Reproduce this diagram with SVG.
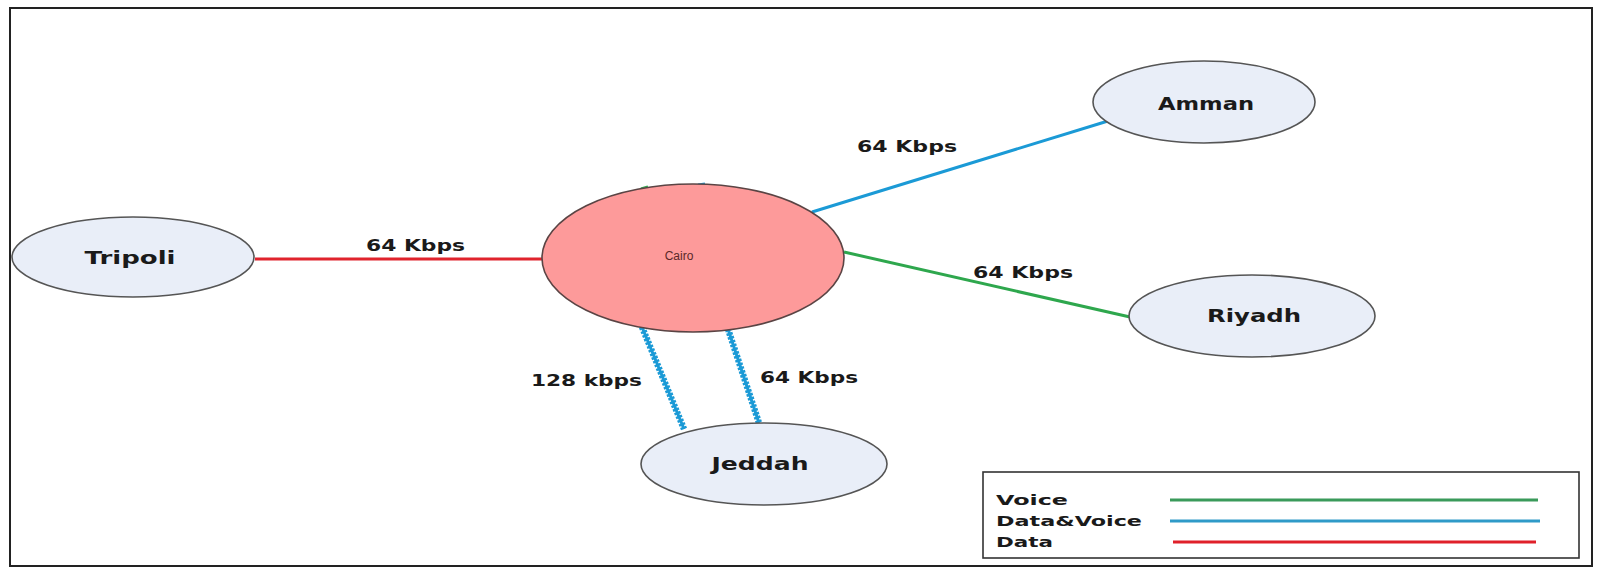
<svg xmlns="http://www.w3.org/2000/svg" width="1602" height="568" viewBox="0 0 1602 568">
<style>
.node ellipse{fill:#e9eef8;stroke:#555;stroke-width:1.6}
.lbl{font-family:"DejaVu Sans",Verdana,sans-serif;font-weight:bold;fill:#1a1a1a}
.nl{font-size:18px;text-anchor:middle}
.el{font-size:15px}
.lg{font-size:14px}
.red{stroke:#e0232c;stroke-width:3;fill:none}
.blue{stroke:#1b9ad6;stroke-width:3;fill:none}
.green{stroke:#2ea74d;stroke-width:3;fill:none}
.thick{stroke:#1b9ad6;stroke-width:6.5;fill:none;stroke-dasharray:2.5 1.5}
</style>
<rect width="1602" height="568" fill="#fff"/>
<rect x="10" y="8" width="1582" height="558" fill="none" stroke="#222" stroke-width="2"/>
<g id="connectors">
  <line class="red" x1="255" y1="259" x2="542" y2="259"/>
  <line class="blue" x1="812" y1="212" x2="1108" y2="121"/>
  <line class="green" x1="844" y1="252" x2="1130" y2="317"/>
  <line class="blue" x1="642" y1="327" x2="684" y2="429" stroke-width="4.5"/>
  <line class="thick" x1="642" y1="327" x2="684" y2="429"/>
  <line class="blue" x1="728" y1="329" x2="759" y2="423" stroke-width="4.5"/>
  <line class="thick" x1="728" y1="329" x2="759" y2="423"/>
  <line class="green" x1="641" y1="189" x2="648" y2="187"/>
  <line class="blue" x1="698" y1="185" x2="705" y2="184" stroke-width="2"/>
  <text class="lbl el" x="366" y="251" textLength="99" lengthAdjust="spacingAndGlyphs">64 Kbps</text>
  <text class="lbl el" x="857" y="152" textLength="100" lengthAdjust="spacingAndGlyphs">64 Kbps</text>
  <text class="lbl el" x="973" y="278" textLength="100" lengthAdjust="spacingAndGlyphs">64 Kbps</text>
  <text class="lbl el" x="531" y="386" textLength="111" lengthAdjust="spacingAndGlyphs">128 kbps</text>
  <text class="lbl el" x="760" y="383" textLength="98" lengthAdjust="spacingAndGlyphs">64 Kbps</text>
</g>
<g id="cairo">
  <ellipse cx="693" cy="258" rx="151" ry="74" fill="#fd9a9a" stroke="#5a4444" stroke-width="1.6"/>
  <text x="679" y="260" font-family="Liberation Sans,Arial,sans-serif" font-size="12" fill="#5a2828" text-anchor="middle">Cairo</text>
</g>
<g id="tripoli" class="node">
  <ellipse cx="133" cy="257" rx="121" ry="40"/>
  <text class="lbl nl" x="130" y="264" textLength="91" lengthAdjust="spacingAndGlyphs">Tripoli</text>
</g>
<g id="amman" class="node">
  <ellipse cx="1204" cy="102" rx="111" ry="41"/>
  <text class="lbl nl" x="1206" y="110" textLength="96" lengthAdjust="spacingAndGlyphs">Amman</text>
</g>
<g id="riyadh" class="node">
  <ellipse cx="1252" cy="316" rx="123" ry="41"/>
  <text class="lbl nl" x="1254" y="322" textLength="94" lengthAdjust="spacingAndGlyphs">Riyadh</text>
</g>
<g id="jeddah" class="node">
  <ellipse cx="764" cy="464" rx="123" ry="41"/>
  <text class="lbl nl" x="760" y="470" textLength="97" lengthAdjust="spacingAndGlyphs">Jeddah</text>
</g>
<g id="legend">
  <rect x="983" y="472" width="596" height="86" fill="#fff" stroke="#333" stroke-width="1.6"/>
  <text class="lbl lg" x="996" y="505" textLength="72" lengthAdjust="spacingAndGlyphs">Voice</text>
  <text class="lbl lg" x="996" y="526" textLength="146" lengthAdjust="spacingAndGlyphs">Data&amp;Voice</text>
  <text class="lbl lg" x="996" y="547" textLength="57" lengthAdjust="spacingAndGlyphs">Data</text>
  <line x1="1170" y1="500" x2="1538" y2="500" stroke="#3a9a5a" stroke-width="3"/>
  <line x1="1170" y1="521" x2="1540" y2="521" stroke="#2f9ac8" stroke-width="3"/>
  <line x1="1173" y1="542" x2="1536" y2="542" stroke="#e0202a" stroke-width="3"/>
</g>
</svg>
